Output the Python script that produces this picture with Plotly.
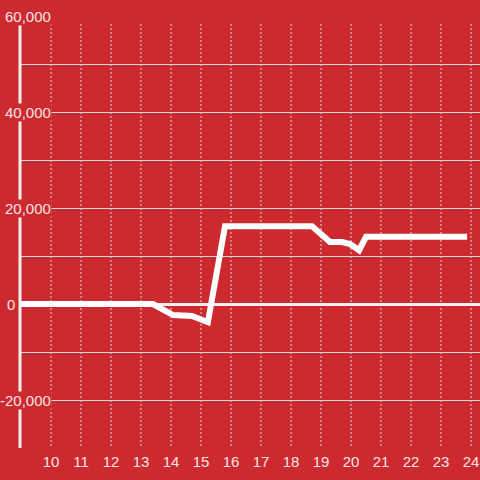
import plotly.graph_objects as go

# data
hours = [8.97, 13.4, 14.07, 14.7, 15.23, 15.8, 18.7, 19.3, 19.7, 19.97, 20.27, 20.5, 23.87]
values = [0, 0, -2300, -2500, -3800, 16200, 16200, 12900, 12900, 12500, 11200, 14000, 14000]
x_ticks = list(range(10, 25))
y_ticks = [60000, 40000, 20000, 0, -20000]
y_tick_labels = ["60,000", "40,000", "20,000", "0", "-20,000"]

BG = "#cc2a2f"
TXT = "#f5e4e4"
GRID = "#d8d8d8"
Y_MIN, Y_MAX = -30000, 60000
X_MIN, X_MAX = 8.967, 24.3

fig = go.Figure()
fig.add_trace(go.Scatter(x=hours, y=values, mode="lines",
                         line=dict(color="white", width=6), hoverinfo="skip"))

shapes = []
# vertical dotted gridlines
for t in x_ticks:
    shapes.append(dict(type="line", xref="x", yref="y", x0=t, x1=t,
                       y0=Y_MAX - 8 / 48 * 10000, y1=Y_MIN,
                       line=dict(color=GRID, width=1, dash="2px,2px"), layer="below"))
# y axis line
shapes.append(dict(type="line", xref="paper", yref="y", x0=0, x1=0,
                   y0=Y_MAX - 8 / 48 * 10000, y1=Y_MIN,
                   line=dict(color="#efefef", width=3), layer="above"))

annotations = []
for v, lab in zip(y_ticks, y_tick_labels):
    annotations.append(dict(xref="paper", yref="y", x=0, y=v, text=lab,
                            showarrow=False, xanchor="right", yanchor="middle",
                            xshift=(-4 if v == 0 else 32), font=dict(size=15, color=TXT,
                            family="Liberation Sans, Arial"), bgcolor=BG, borderpad=0))

fig.update_layout(
    width=480, height=480, paper_bgcolor=BG, plot_bgcolor=BG,
    margin=dict(l=20, r=0, t=16, b=32), showlegend=False,
    shapes=shapes, annotations=annotations,
    font=dict(family="Liberation Sans, Arial", size=15, color=TXT),
    xaxis=dict(range=[X_MIN, X_MAX], tickvals=x_ticks, showgrid=False, zeroline=False,
               showline=False, ticks="", ticklabelstandoff=3,
               tickfont=dict(size=15, color=TXT)),
    yaxis=dict(range=[Y_MIN, Y_MAX], dtick=10000, tick0=0, showgrid=True, gridcolor=GRID,
               gridwidth=1, zeroline=True, zerolinecolor="#efefef", zerolinewidth=3,
               showticklabels=False, showline=False, ticks=""),
)
fig.write_html("out.html", config={"displayModeBar": False},
               post_script="document.body.style.margin='0px';")
